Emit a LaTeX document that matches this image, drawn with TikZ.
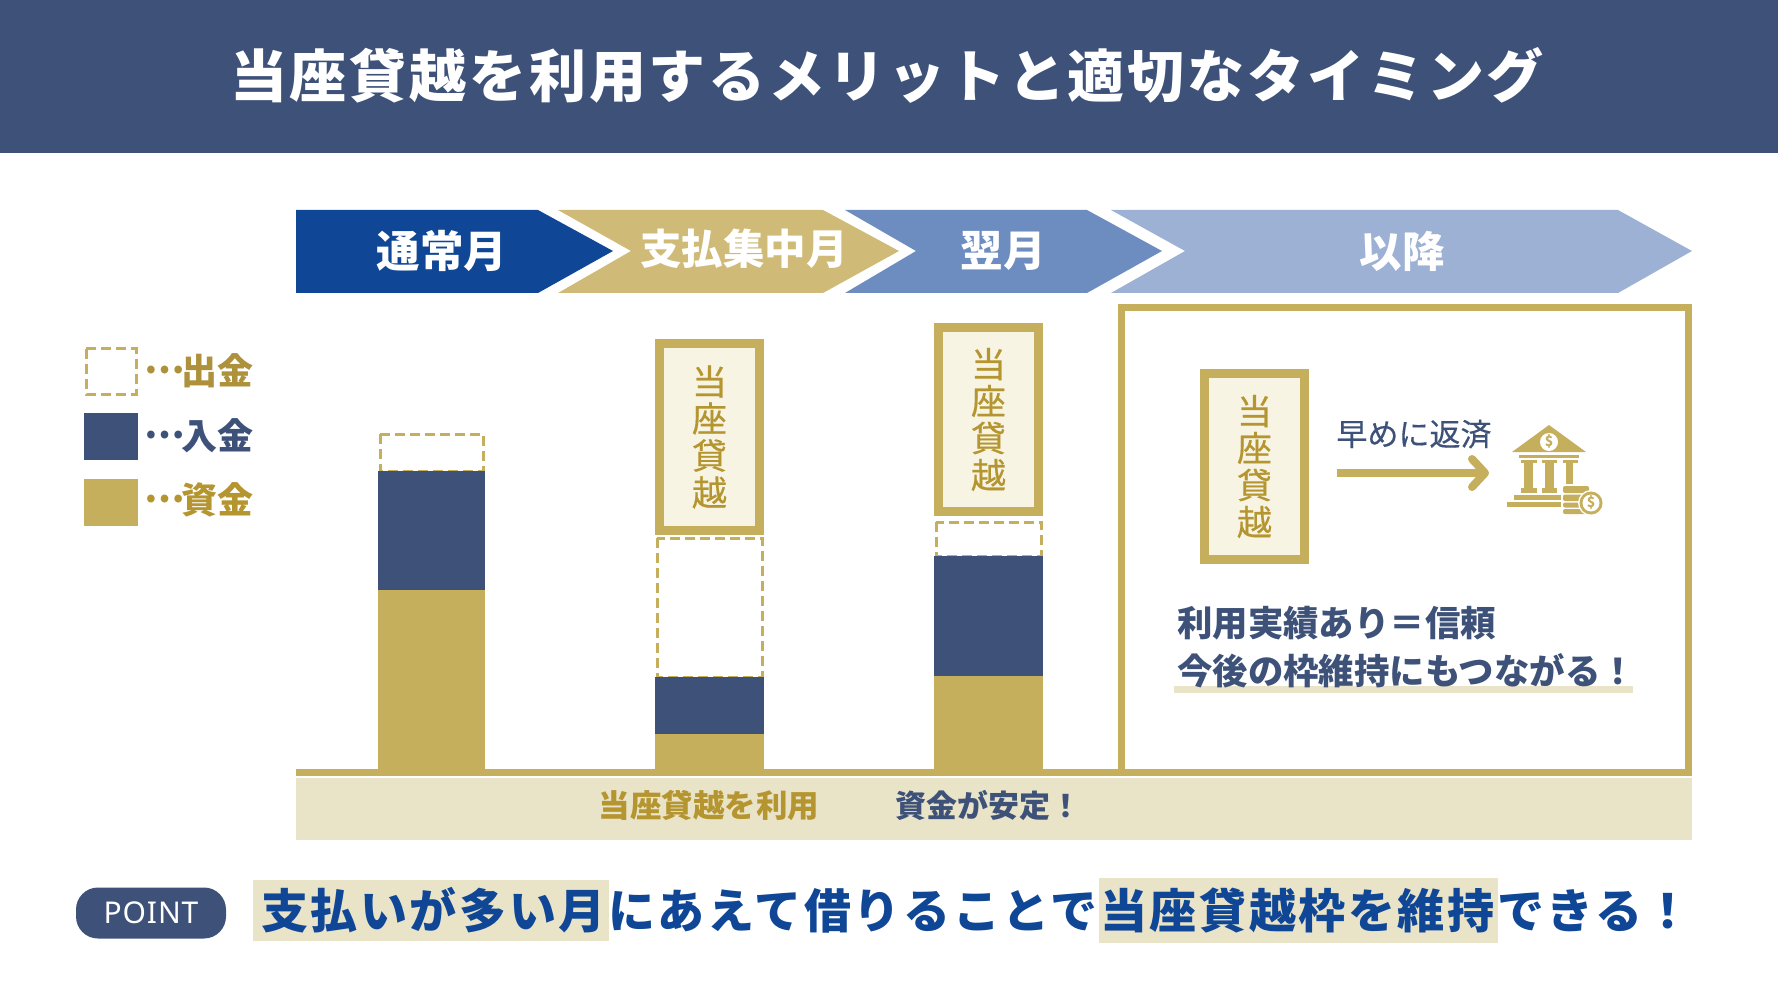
\documentclass[tikz,border=0pt]{standalone}
\usepackage{fontspec}
\setmainfont{Noto Sans CJK JP}
\newfontfamily\pointfont{Noto Sans}
\usetikzlibrary{arrows.meta}
\newcommand{\fsz}[1]{\fontsize{#1}{#1}\selectfont}
\newcommand{\spc}[1]{\addfontfeature{LetterSpace=#1}}
\newcommand{\medium}{\addfontfeature{FakeBold=0.5}}
\newcommand{\legdots}{\raisebox{0.3em}{…}\hspace{-3pt}}
\definecolor{navy}{HTML}{3D5179}
\definecolor{royal}{HTML}{0F4696}
\definecolor{gold}{HTML}{C5AE5C}
\definecolor{darkgold}{HTML}{B5952F}
\definecolor{pale}{HTML}{E9E3C8}
\definecolor{cream}{HTML}{F8F4E4}
\definecolor{stepa}{HTML}{CFBB77}
\definecolor{stepb}{HTML}{6D8DC0}
\definecolor{stepc}{HTML}{9DB1D4}
\tikzset{
  steptext/.style={text=white, font=\fsz{#1}\bfseries},
  legendtext/.style={anchor=west, font=\fsz{36}\bfseries},
  dashbox/.style={draw=gold, line width=3pt, dash pattern=on 10pt off 5pt, fill=white},
  loanbox/.style={draw=gold, line width=9pt, fill=cream, text=darkgold, align=center,
    minimum width=100pt, minimum height=186pt, font=\fontsize{35}{37}\selectfont\medium},
  bandtext/.style={font=\fsz{#1}\bfseries},
  panelfact/.style={anchor=west, text=navy, font=\fsz{35.4}\bfseries, inner xsep=0pt},
}
\begin{document}
\begin{tikzpicture}[x=1pt,y=-1pt]
  \useasboundingbox (0,0) rectangle (1778,1000);
  % header
  \fill[navy] (0,0) rectangle (1778,153);
  \node[text=white, font=\fsz{57}\bfseries\spc{5}] (title) at (887,75) {当座貸越を利用するメリットと適切なタイミング};

  % month arrows
  \fill[royal] (296,210) -- (538,210) -- (613,251) -- (538,293) -- (296,293) -- cycle;
  \fill[stepa] (558,210) -- (823,210) -- (899,251) -- (823,293) -- (558,293) -- (631,251) -- cycle;
  \fill[stepb] (845,210) -- (1087,210) -- (1162,251) -- (1087,293) -- (845,293) -- (916,251) -- cycle;
  \fill[stepc] (1111,210) -- (1618,210) -- (1692,251) -- (1618,293) -- (1111,293) -- (1185,251) -- cycle;
  \node[steptext=43.5] (normal) at (442,251) {通常月};
  \node[steptext=41.5] (peak) at (744,249) {支払集中月};
  \node[steptext=42.5] (next) at (1003,251) {翌月};
  \node[steptext=42.5] (later) at (1402,251) {以降};

  % legend
  \draw[dashbox] (86,349) rectangle (136,394);
  \fill[navy] (84,413) rectangle (138,460);
  \fill[gold] (84,479) rectangle (138,526);
  \node[legendtext, text=darkgold!85!gray] (legout) at (141,371) {\legdots 出金};
  \node[legendtext, text=navy] (legin) at (141,436) {\legdots 入金};
  \node[legendtext, text=darkgold] (legfund) at (141,500) {\legdots 資金};

  % bars
  \draw[dashbox] (380,434) rectangle (483,471);
  \fill[navy] (378,471) rectangle (485,590);
  \fill[gold] (378,590) rectangle (485,771);

  \draw[dashbox] (657,538) rectangle (762,677);
  \fill[navy] (655,677) rectangle (764,734);
  \fill[gold] (655,734) rectangle (764,771);
  \node[loanbox] (loana) at (709.5,437) {当\\座\\貸\\越};

  \draw[dashbox] (936,522) rectangle (1041,556);
  \fill[navy] (934,556) rectangle (1043,676);
  \fill[gold] (934,676) rectangle (1043,771);
  \node[loanbox, minimum height=184pt] (loanb) at (988.5,419.5) {当\\座\\貸\\越};

  % ground and band
  \fill[gold] (296,769) rectangle (1692,776);
  \fill[pale] (296,778) rectangle (1692,840);
  \node[bandtext=31.5, text=darkgold] (uselabel) at (709,805) {当座貸越を利用};
  \node[bandtext=31, text=navy] (stablelabel) at (988,805) {資金が安定！};

  % later panel
  \draw[gold, line width=7pt] (1121.5,307.5) rectangle (1688.5,772.5);
  \node[loanbox] (loanc) at (1254.5,466.5) {当\\座\\貸\\越};
  \node[text=navy, font=\fsz{31}\addfontfeature{FakeBold=0.3}] (repay) at (1414,434) {早めに返済};
  \coordinate (arrowstart) at (1337,473);
  \coordinate (arrowend) at (1489,473);
  \draw[gold, line width=8pt, -{Straight Barb[length=13pt,width=28pt,round]}] (arrowstart) -- (arrowend);

  % bank icon
  \fill[gold] (1549,425) -- (1586,452) -- (1512,452) -- cycle;
  \fill[white] (1549,442) circle (9pt);
  \node[text=gold, font=\fsz{14}\bfseries, inner sep=0pt] (bankdollar) at (1549,441.5) {\$};
  \fill[gold] (1519,455) rectangle (1579,458);
  \fill[gold] (1521,460) rectangle (1537,463);
  \fill[gold] (1524,463) rectangle (1533,488);
  \fill[gold] (1521,488) rectangle (1537,493);
  \fill[gold] (1542,460) rectangle (1557,463);
  \fill[gold] (1545,463) rectangle (1554,488);
  \fill[gold] (1542,488) rectangle (1557,493);
  \fill[gold] (1563,460) rectangle (1578,463);
  \fill[gold] (1566,463) rectangle (1573,484);
  \fill[gold] (1514,495) rectangle (1561,500);
  \fill[gold] (1507,502) rectangle (1561,507);
  \fill[gold, rounded corners=2pt] (1563,486) rectangle (1589,493);
  \fill[gold, rounded corners=2pt] (1563,494.5) rectangle (1589,501);
  \fill[gold, rounded corners=2pt] (1563,502.5) rectangle (1589,507.5);
  \fill[gold, rounded corners=2pt] (1563,509) rectangle (1589,514);
  \fill[white] (1591,503) circle (13pt);
  \fill[gold] (1591,503) circle (11.5pt);
  \fill[white] (1591,503) circle (8.5pt);
  \node[text=gold, font=\fsz{14}\bfseries, inner sep=0pt] (coindollar) at (1591,502.5) {\$};

  % panel text
  \fill[pale] (1174,686) rectangle (1633,693);
  \node[panelfact] (recorda) at (1177,623) {利用実績あり＝信頼};
  \node[panelfact] (recordb) at (1177,671) {今後の枠維持にもつながる！};

  % point line
  \fill[pale] (253,880) rectangle (609,941);
  \fill[pale] (1099,878) rectangle (1498,943);
  \node[fill=navy, rounded corners=22pt, minimum width=150pt, minimum height=51pt, text=white,
    font=\pointfont\fsz{30}\spc{3}] (point) at (151,913) {POINT};
  \node[anchor=west, text=royal, inner xsep=0pt, font=\fsz{47}\bfseries\spc{5.5}] (message) at (261,910) {支払いが多い月にあえて借りることで当座貸越枠を維持できる！};
\end{tikzpicture}
\end{document}
